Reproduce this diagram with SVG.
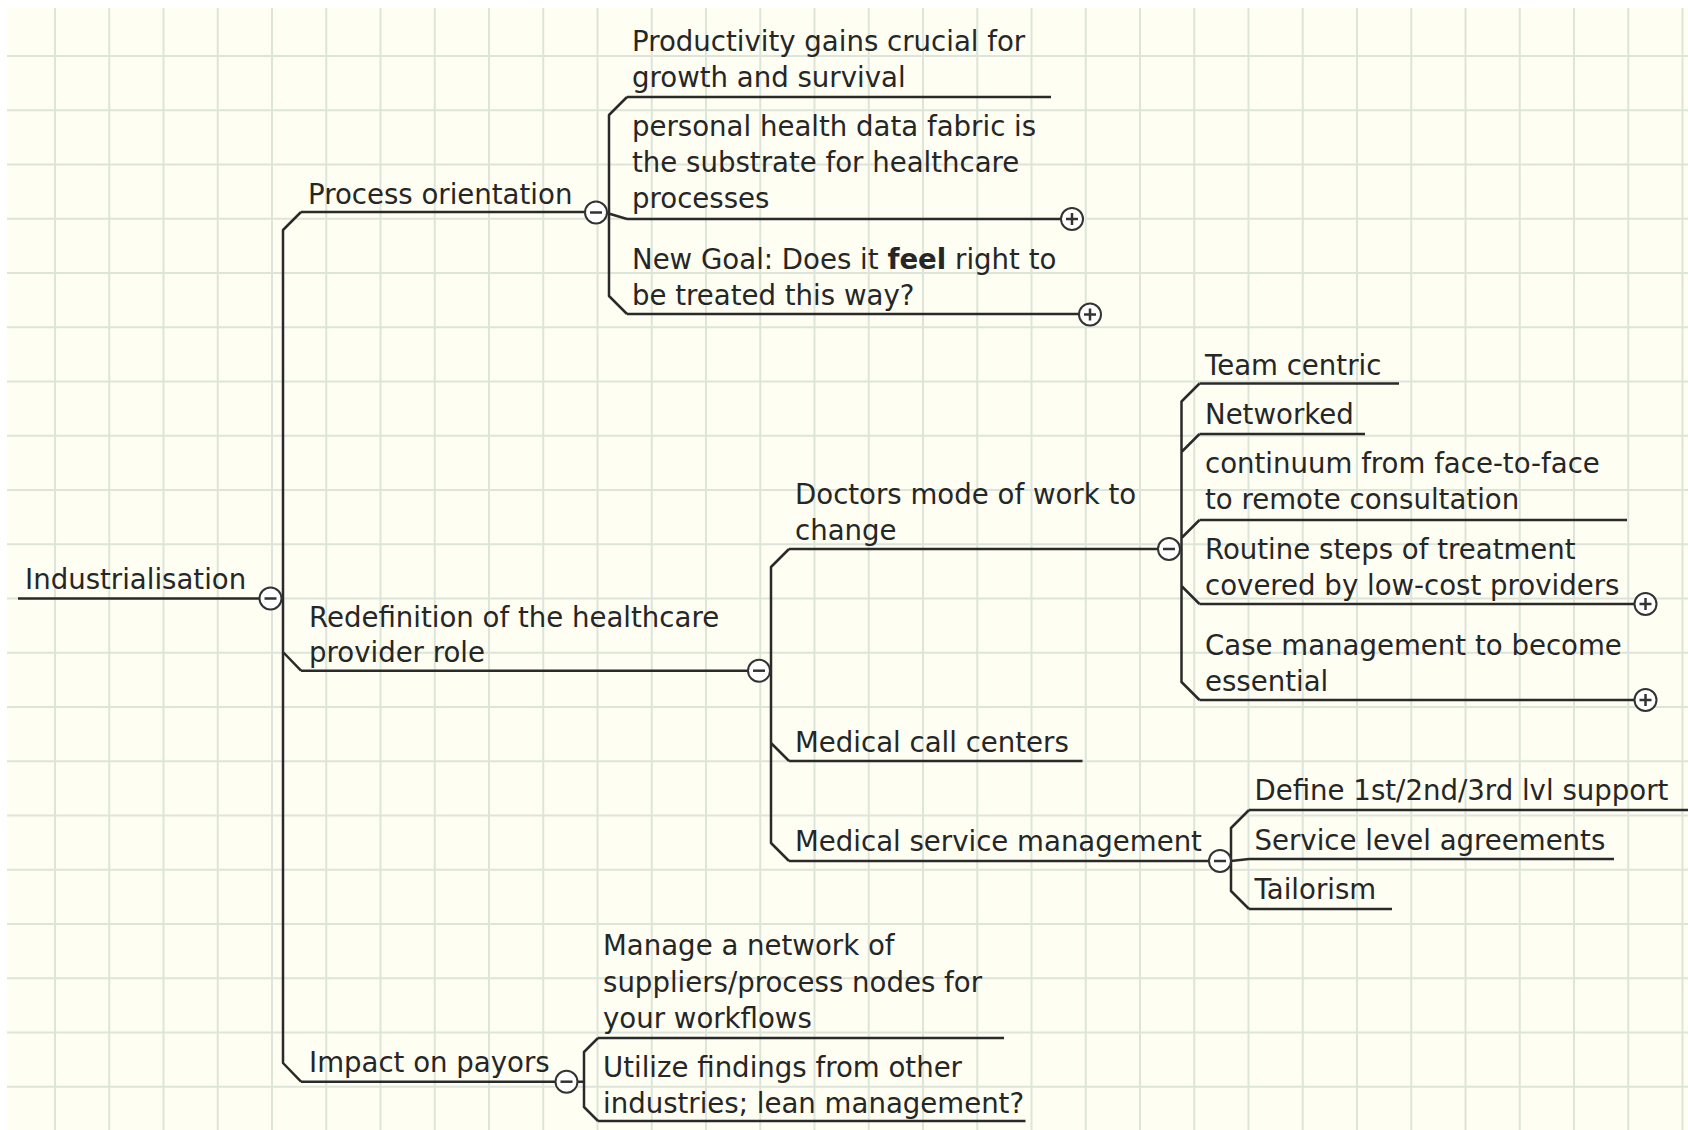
<svg xmlns="http://www.w3.org/2000/svg" width="1688" height="1130" viewBox="0 0 1688 1130">
<style>
.t{font-family:"DejaVu Sans",Verdana,sans-serif;font-size:27.6px;fill:#262626}
.b{font-weight:bold}
.u{stroke:#2a2a2a;stroke-width:2.5;fill:none}
.k{stroke:#2a2a2a;stroke-width:2.5;fill:none;stroke-linejoin:round}
.grid{stroke:#dde5da;stroke-width:2;fill:none}
.tc{fill:#fff;stroke:#333;stroke-width:2}
.ts{stroke:#333;stroke-width:2.5;fill:none}
</style>
<defs>
<g id="minus"><circle class="tc" r="11"/><path class="ts" d="M-6,0H6"/></g>
<g id="plus"><circle class="tc" r="11"/><path class="ts" d="M-6,0H6M0,-6V6"/></g>
</defs>
<rect width="1688" height="1130" fill="#ffffff"/>
<rect x="7" y="8" width="1681" height="1122" fill="#fefef2"/>
<path class="grid" d="M55,8V1130M109.25,8V1130M163.5,8V1130M217.75,8V1130M272,8V1130M326.25,8V1130M380.5,8V1130M434.75,8V1130M489,8V1130M543.25,8V1130M597.5,8V1130M651.75,8V1130M706,8V1130M760.25,8V1130M814.5,8V1130M868.75,8V1130M923,8V1130M977.25,8V1130M1031.5,8V1130M1085.75,8V1130M1140,8V1130M1194.25,8V1130M1248.5,8V1130M1302.75,8V1130M1357,8V1130M1411.25,8V1130M1465.5,8V1130M1519.75,8V1130M1574,8V1130M1628.25,8V1130M1682.5,8V1130
M7,56H1688M7,110.25H1688M7,164.5H1688M7,218.75H1688M7,273H1688M7,327.25H1688M7,381.5H1688M7,435.75H1688M7,490H1688M7,544.25H1688M7,598.5H1688M7,652.75H1688M7,707H1688M7,761.25H1688M7,815.5H1688M7,869.75H1688M7,924H1688M7,978.25H1688M7,1032.5H1688M7,1086.75H1688"/>

<g id="connectors">
<path class="k" d="M301,212L283,230V1063L301,1081.7M283,652L301,670.7"/>
<path class="k" d="M627,97L609,115V296L627,314M607,213L627,219"/>
<path class="k" d="M789,549L771,567V843L789,861M771,743L789,761"/>
<path class="k" d="M1199.5,383.5L1181.5,401.5V682L1199.5,700M1181.5,452L1199.5,434M1181.5,538L1199.5,520M1181.5,586L1199.5,604"/>
<path class="k" d="M1249,810L1231,828V891L1249,909M1231,861L1249,859"/>
<path class="k" d="M598,1038L584,1052V1107L598,1121M577,1081.7H584"/>
</g>

<g id="n-industrialisation">
<path class="u" d="M18,598.5H259.5"/>
<text class="t" x="25" y="589">Industrialisation</text>
<use href="#minus" x="270.5" y="598.5"/>
</g>
<g id="n-process">
<path class="u" d="M301,212H585"/>
<text class="t" x="308" y="204">Process orientation</text>
<use href="#minus" x="596" y="212.5"/>
</g>
<g id="n-productivity">
<path class="u" d="M627,97H1051"/>
<text class="t" x="632" y="51">Productivity gains crucial for</text>
<text class="t" x="632" y="87">growth and survival</text>
</g>
<g id="n-personal">
<path class="u" d="M627,219H1061"/>
<text class="t" x="632" y="136">personal health data fabric is</text>
<text class="t" x="632" y="172">the substrate for healthcare</text>
<text class="t" x="632" y="208">processes</text>
<use href="#plus" x="1072" y="219"/>
</g>
<g id="n-newgoal">
<path class="u" d="M627,314H1079"/>
<text class="t" x="632" y="268.5">New Goal: Does it <tspan class="b">feel</tspan> right to</text>
<text class="t" x="632" y="304.5">be treated this way?</text>
<use href="#plus" x="1090" y="314.5"/>
</g>
<g id="n-redefinition">
<path class="u" d="M301,670.7H748"/>
<text class="t" x="309" y="627">Redefinition of the healthcare</text>
<text class="t" x="309" y="662">provider role</text>
<use href="#minus" x="759" y="670.7"/>
</g>
<g id="n-doctors">
<path class="u" d="M789,549H1158"/>
<text class="t" x="795" y="503.5">Doctors mode of work to</text>
<text class="t" x="795" y="540">change</text>
<use href="#minus" x="1169" y="549"/>
</g>
<g id="n-team">
<path class="u" d="M1199.5,383.5H1399"/>
<text class="t" x="1205" y="375">Team centric</text>
</g>
<g id="n-networked">
<path class="u" d="M1199.5,434H1365"/>
<text class="t" x="1205" y="424">Networked</text>
</g>
<g id="n-continuum">
<path class="u" d="M1199.5,520H1627"/>
<text class="t" x="1205" y="473">continuum from face-to-face</text>
<text class="t" x="1205" y="509">to remote consultation</text>
</g>
<g id="n-routine">
<path class="u" d="M1199.5,604H1634.5"/>
<text class="t" x="1205" y="558.5">Routine steps of treatment</text>
<text class="t" x="1205" y="594.5">covered by low-cost providers</text>
<use href="#plus" x="1645.5" y="604"/>
</g>
<g id="n-case">
<path class="u" d="M1199.5,700H1634.5"/>
<text class="t" x="1205" y="655">Case management to become</text>
<text class="t" x="1205" y="691">essential</text>
<use href="#plus" x="1645.5" y="700"/>
</g>
<g id="n-callcenters">
<path class="u" d="M789,761H1082.5"/>
<text class="t" x="795" y="752">Medical call centers</text>
</g>
<g id="n-servicemgmt">
<path class="u" d="M789,861H1209"/>
<text class="t" x="795" y="851">Medical service management</text>
<use href="#minus" x="1220" y="861"/>
</g>
<g id="n-define">
<path class="u" d="M1249,810H1688"/>
<text class="t" x="1254.5" y="800">Define 1st/2nd/3rd lvl support</text>
</g>
<g id="n-sla">
<path class="u" d="M1249,859H1614"/>
<text class="t" x="1254.5" y="849.5">Service level agreements</text>
</g>
<g id="n-tailorism">
<path class="u" d="M1249,909H1392"/>
<text class="t" x="1254.5" y="899">Tailorism</text>
</g>
<g id="n-impact">
<path class="u" d="M301,1081.7H555.5"/>
<text class="t" x="309" y="1072">Impact on payors</text>
<use href="#minus" x="566.5" y="1081.7"/>
</g>
<g id="n-manage">
<path class="u" d="M598,1038H1004"/>
<text class="t" x="603" y="955">Manage a network of</text>
<text class="t" x="603" y="991.5">suppliers/process nodes for</text>
<text class="t" x="603" y="1028">your workflows</text>
</g>
<g id="n-utilize">
<path class="u" d="M598,1121H1025.5"/>
<text class="t" x="603" y="1077">Utilize findings from other</text>
<text class="t" x="603" y="1113">industries; lean management?</text>
</g>
</svg>
